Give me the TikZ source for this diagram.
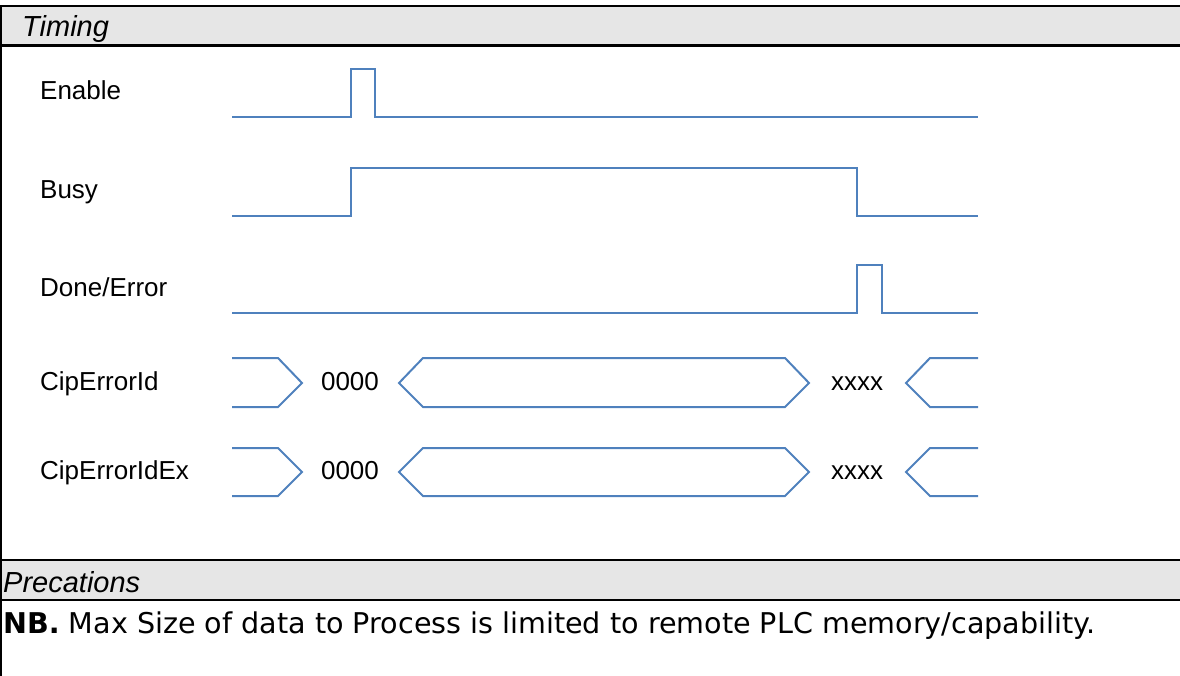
\documentclass[tikz,border=0pt]{standalone}
\usepackage{fontspec}
\setmainfont{Liberation Sans}
\newfontfamily\bodyfont{DejaVu Sans}
\definecolor{sigblue}{HTML}{4F81BD}
\definecolor{bandgray}{HTML}{E6E6E6}
\begin{document}
\begin{tikzpicture}[x=1pt,y=-1pt,
  wave/.style={draw=sigblue,line width=2pt,line join=miter},
  lbl/.style={anchor=base west,inner sep=0pt,font=\fontsize{26}{30}\selectfont},
  val/.style={anchor=base,inner sep=0pt,font=\fontsize{26}{30}\selectfont},
  hdr/.style={anchor=base west,inner sep=0pt,font=\fontsize{29}{33}\selectfont\itshape},
  body/.style={anchor=base west,inner sep=0pt,font=\bodyfont\fontsize{28.6}{32}\selectfont},
  rulethick/.style={draw=black,line width=2.4pt}]
\useasboundingbox (0,0) rectangle (1180,676);
% header bands
\fill[bandgray] (0,6) rectangle (1180,45);
\fill[bandgray] (0,560) rectangle (1180,600);
\draw[rulethick] (0,6) -- (1180,6);
\draw[rulethick] (0,45.5) -- (1180,45.5);
\draw[rulethick] (0,560) -- (1180,560);
\draw[rulethick] (0,600) -- (1180,600);
\draw[black,line width=1.5pt] (0.75,6) -- (0.75,676);
% headers
\node[hdr] (hTiming) at (22,37) {Timing};
\node[hdr] (hPrec) at (3,592) {Precations};
\node[body] (nb) at (3,633) {\textbf{NB.} Max Size of data to Process is limited to remote PLC memory/capability.};
% labels
\node[lbl] (lEnable) at (40,100) {Enable};
\node[lbl] (lBusy) at (40,199) {Busy};
\node[lbl] (lDone) at (40,296) {Done/Error};
\node[lbl] (lCip) at (40,390) {CipErrorId};
\node[lbl] (lCipEx) at (40,479) {CipErrorIdEx};
% Enable
\draw[wave] (232,117) -- (351,117) -- (351,69) -- (375,69) -- (375,117) -- (978,117);
% Busy
\draw[wave] (232,216) -- (351,216) -- (351,168) -- (857,168) -- (857,216) -- (978,216);
% Done/Error
\draw[wave] (232,313) -- (857,313) -- (857,265) -- (882,265) -- (882,313) -- (978,313);
% CipErrorId / CipErrorIdEx buses
\foreach \t/\m/\b in {358/383/407, 448/472/496}{
  \draw[wave] (232,\t) -- (278,\t) -- (302,\m) -- (278,\b) -- (232,\b);
  \draw[wave] (423,\t) -- (785,\t) -- (809,\m) -- (785,\b) -- (423,\b) -- (399,\m) -- cycle;
  \draw[wave] (978,\t) -- (930,\t) -- (906,\m) -- (930,\b) -- (978,\b);
}
\node[val] (v1) at (350,390) {0000};
\node[val] (v2) at (857,390) {xxxx};
\node[val] (v3) at (350,479) {0000};
\node[val] (v4) at (857,479) {xxxx};
\end{tikzpicture}
\end{document}
